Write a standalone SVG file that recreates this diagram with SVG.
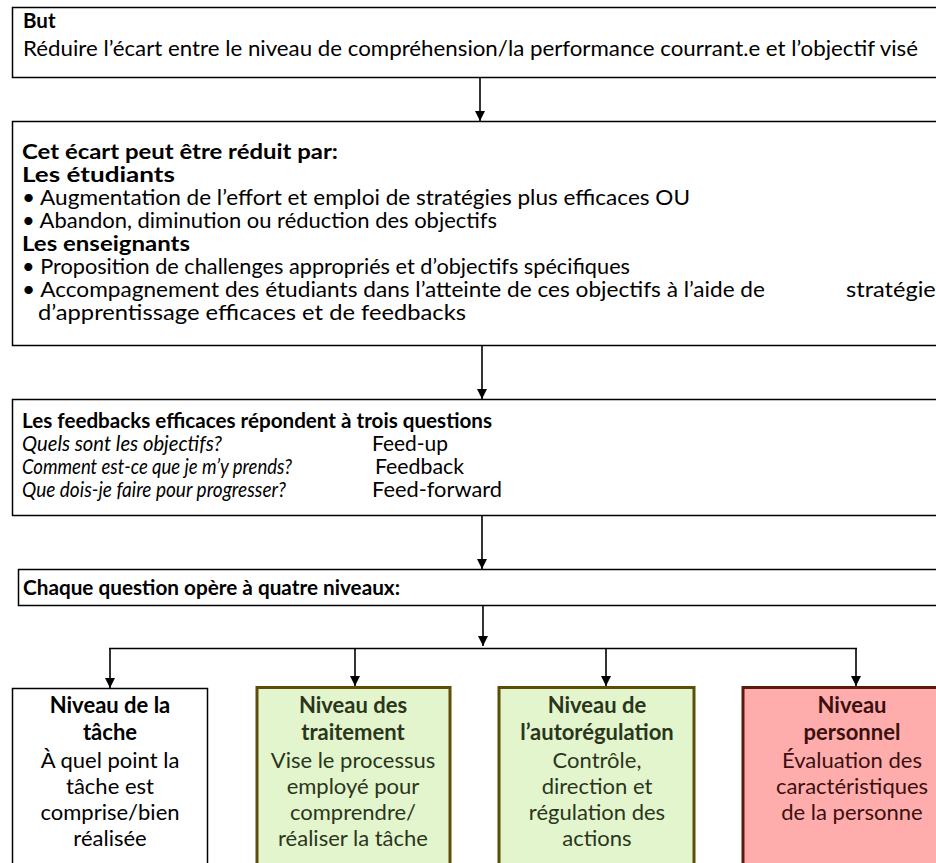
<svg xmlns="http://www.w3.org/2000/svg" width="936" height="863" viewBox="0 0 936 863">
  <defs>
    <marker id="arrow" viewBox="0 0 10 10" refX="10" refY="5" markerWidth="10" markerHeight="10" markerUnits="userSpaceOnUse" orient="auto">
      <path d="M0,0 L10,5 L0,10 z" fill="#000"/>
    </marker>
  </defs>
  <style>
    .box { fill: #fff; stroke: #000; stroke-width: 1.5; }
    .green { fill: #e3f5cd; stroke: #5e4d06; stroke-width: 3; }
    .red { fill: #ffacac; stroke: #5c1a0c; stroke-width: 3; }
    .t { font-family: Lato, "Open Sans", sans-serif; font-size: 20.5px; fill: #000; }
    .b { font-weight: bold; }
    .i { font-style: italic; }
    .lvl { font-family: Lato, "Open Sans", sans-serif; font-size: 22px; text-anchor: middle; }
    .dg { fill: #2a361c; }
    .dr { fill: #3a1010; }
    .conn line, .conn path { stroke: #000; stroke-width: 1.6; fill: none; }
  </style>

  <!-- Goal -->
  <g id="but">
    <rect class="box" x="12.5" y="7.5" width="940" height="70"/>
    <text class="t b" x="23" y="28">But</text>
    <text class="t" x="23" y="56" textLength="895" lengthAdjust="spacingAndGlyphs">Réduire l’écart entre le niveau de compréhension/la performance courrant.e et l’objectif visé</text>
  </g>

  <!-- How the gap is reduced -->
  <g id="ecart">
    <rect class="box" x="12.5" y="121.5" width="940" height="224"/>
    <text class="t b" x="22" y="159" textLength="316" lengthAdjust="spacingAndGlyphs">Cet écart peut être réduit par:</text>
    <text class="t b" x="22" y="182" textLength="153" lengthAdjust="spacingAndGlyphs">Les étudiants</text>
    <text class="t" x="22" y="205" textLength="668" lengthAdjust="spacingAndGlyphs">•  Augmentation de l’effort et emploi de stratégies plus efficaces OU</text>
    <text class="t" x="22" y="228" textLength="475" lengthAdjust="spacingAndGlyphs">•  Abandon, diminution ou réduction des objectifs</text>
    <text class="t b" x="22" y="251" textLength="168" lengthAdjust="spacingAndGlyphs">Les enseignants</text>
    <text class="t" x="22" y="274" textLength="608" lengthAdjust="spacingAndGlyphs">•  Proposition de challenges appropriés et d’objectifs spécifiques</text>
    <text class="t" x="22" y="297" textLength="743" lengthAdjust="spacingAndGlyphs">•  Accompagnement des étudiants dans l’atteinte de ces objectifs à l’aide de</text>
    <text class="t" x="846" y="297" textLength="100" lengthAdjust="spacingAndGlyphs">stratégies</text>
    <text class="t" x="38" y="320" textLength="428" lengthAdjust="spacingAndGlyphs">d’apprentissage efficaces et de feedbacks</text>
  </g>

  <!-- Three questions -->
  <g id="questions">
    <rect class="box" x="12.5" y="399.5" width="940" height="116"/>
    <text class="t b" x="22" y="428" textLength="470" lengthAdjust="spacingAndGlyphs">Les feedbacks efficaces répondent à trois questions</text>
    <text class="t i" x="22" y="451" textLength="200" lengthAdjust="spacingAndGlyphs">Quels sont les objectifs?</text>
    <text class="t" x="372" y="451" textLength="76" lengthAdjust="spacingAndGlyphs">Feed-up</text>
    <text class="t i" x="22" y="474" textLength="270" lengthAdjust="spacingAndGlyphs">Comment est-ce que je m’y prends?</text>
    <text class="t" x="375" y="474" textLength="89" lengthAdjust="spacingAndGlyphs">Feedback</text>
    <text class="t i" x="22" y="497" textLength="264" lengthAdjust="spacingAndGlyphs">Que dois-je faire pour progresser?</text>
    <text class="t" x="372" y="497" textLength="130" lengthAdjust="spacingAndGlyphs">Feed-forward</text>
  </g>

  <!-- Four levels heading -->
  <g id="niveaux">
    <rect class="box" x="18.5" y="569.5" width="940" height="36"/>
    <text class="t b" x="23" y="595" textLength="377" lengthAdjust="spacingAndGlyphs">Chaque question opère à quatre niveaux:</text>
  </g>

  <!-- Level boxes -->
  <g id="tache">
    <rect class="box" x="12.5" y="688.5" width="195" height="200"/>
    <text class="lvl b" x="110" y="713">Niveau de la</text>
    <text class="lvl b" x="110" y="740">tâche</text>
    <text class="lvl" x="110" y="768">À quel point la</text>
    <text class="lvl" x="110" y="794">tâche est</text>
    <text class="lvl" x="110" y="820">comprise/bien</text>
    <text class="lvl" x="110" y="846">réalisée</text>
  </g>

  <g id="traitement">
    <rect class="green" x="257" y="687.5" width="193" height="200"/>
    <text class="lvl b dg" x="353" y="713">Niveau des</text>
    <text class="lvl b dg" x="353" y="740">traitement</text>
    <text class="lvl dg" x="353" y="768">Vise le processus</text>
    <text class="lvl dg" x="353" y="794">employé pour</text>
    <text class="lvl dg" x="353" y="820">comprendre/</text>
    <text class="lvl dg" x="353" y="846">réaliser la tâche</text>
  </g>

  <g id="autoregulation">
    <rect class="green" x="499" y="687.5" width="195" height="200"/>
    <text class="lvl b dg" x="597" y="713">Niveau de</text>
    <text class="lvl b dg" x="597" y="740">l’autorégulation</text>
    <text class="lvl dg" x="597" y="768">Contrôle,</text>
    <text class="lvl dg" x="597" y="794">direction et</text>
    <text class="lvl dg" x="597" y="820">régulation des</text>
    <text class="lvl dg" x="597" y="846">actions</text>
  </g>

  <g id="personnel">
    <rect class="red" x="743" y="687.5" width="220" height="200"/>
    <text class="lvl b dr" x="852" y="713">Niveau</text>
    <text class="lvl b dr" x="852" y="740">personnel</text>
    <text class="lvl dr" x="852" y="768">Évaluation des</text>
    <text class="lvl dr" x="852" y="794">caractéristiques</text>
    <text class="lvl dr" x="852" y="820">de la personne</text>
  </g>

  <!-- Connectors -->
  <g class="conn">
    <line x1="480" y1="78" x2="480" y2="121" marker-end="url(#arrow)"/>
    <line x1="482" y1="346" x2="482" y2="399" marker-end="url(#arrow)"/>
    <line x1="482" y1="516" x2="482" y2="569" marker-end="url(#arrow)"/>
    <line x1="483" y1="606" x2="483" y2="646" marker-end="url(#arrow)"/>
    <line x1="109" y1="648.5" x2="857" y2="648.5"/>
    <line x1="110" y1="648" x2="110" y2="688" marker-end="url(#arrow)"/>
    <line x1="355" y1="648" x2="355" y2="686" marker-end="url(#arrow)"/>
    <line x1="606" y1="648" x2="606" y2="686" marker-end="url(#arrow)"/>
    <line x1="856" y1="648" x2="856" y2="686" marker-end="url(#arrow)"/>
  </g>
</svg>
